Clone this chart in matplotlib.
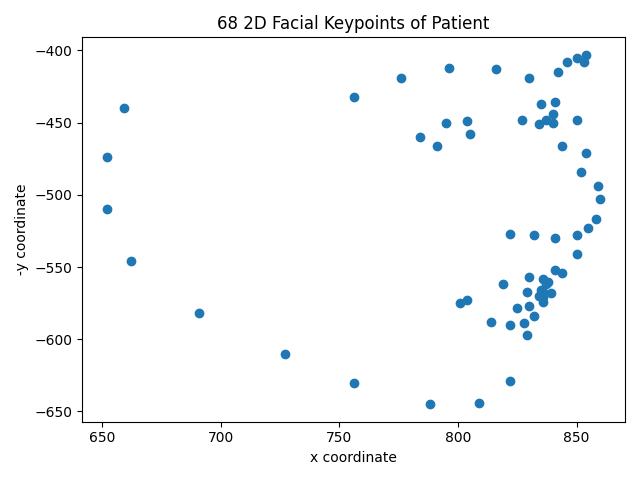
import numpy as np
import matplotlib
matplotlib.use("Agg")
import matplotlib.pyplot as plt

# keypoints (image coords, y grows downward)
x_coords = [659, 652, 652, 662, 691, 727, 756, 788, 809, 822,
            829, 814, 822, 828, 832, 825, 830, 836, 839, 834,
            835, 829, 819, 830, 836, 838, 841, 844, 850, 837,
            836, 804, 801, 756, 776, 796, 816, 830, 842, 846,
            850, 854, 853, 835, 841, 840, 837, 834, 840, 850,
            827, 844, 854, 852, 859, 860, 858, 855, 850, 841,
            832, 822, 836, 795, 804, 805, 784, 791]
y_coords = [440, 474, 510, 546, 582, 610, 630, 645, 644, 629,
            597, 588, 590, 589, 584, 578, 577, 574, 568, 570,
            566, 567, 562, 557, 558, 560, 552, 554, 541, 562,
            567, 573, 575, 432, 419, 412, 413, 419, 415, 408,
            405, 403, 408, 437, 436, 444, 448, 451, 450, 448,
            448, 466, 471, 484, 494, 503, 517, 523, 528, 530,
            528, 527, 571, 450, 449, 458, 460, 466]


def main():
    xs = np.array(x_coords)
    ys = -np.array(y_coords)

    fig, ax = plt.subplots(figsize=(6.4, 4.8), dpi=100)
    ax.scatter(xs, ys)
    ax.set_title("68 2D Facial Keypoints of Patient")
    ax.set_xlabel("x coordinate")
    ax.set_ylabel("-y coordinate")
    fig.tight_layout()
    fig.savefig("out.png")


if __name__ == '__main__':
    main()
